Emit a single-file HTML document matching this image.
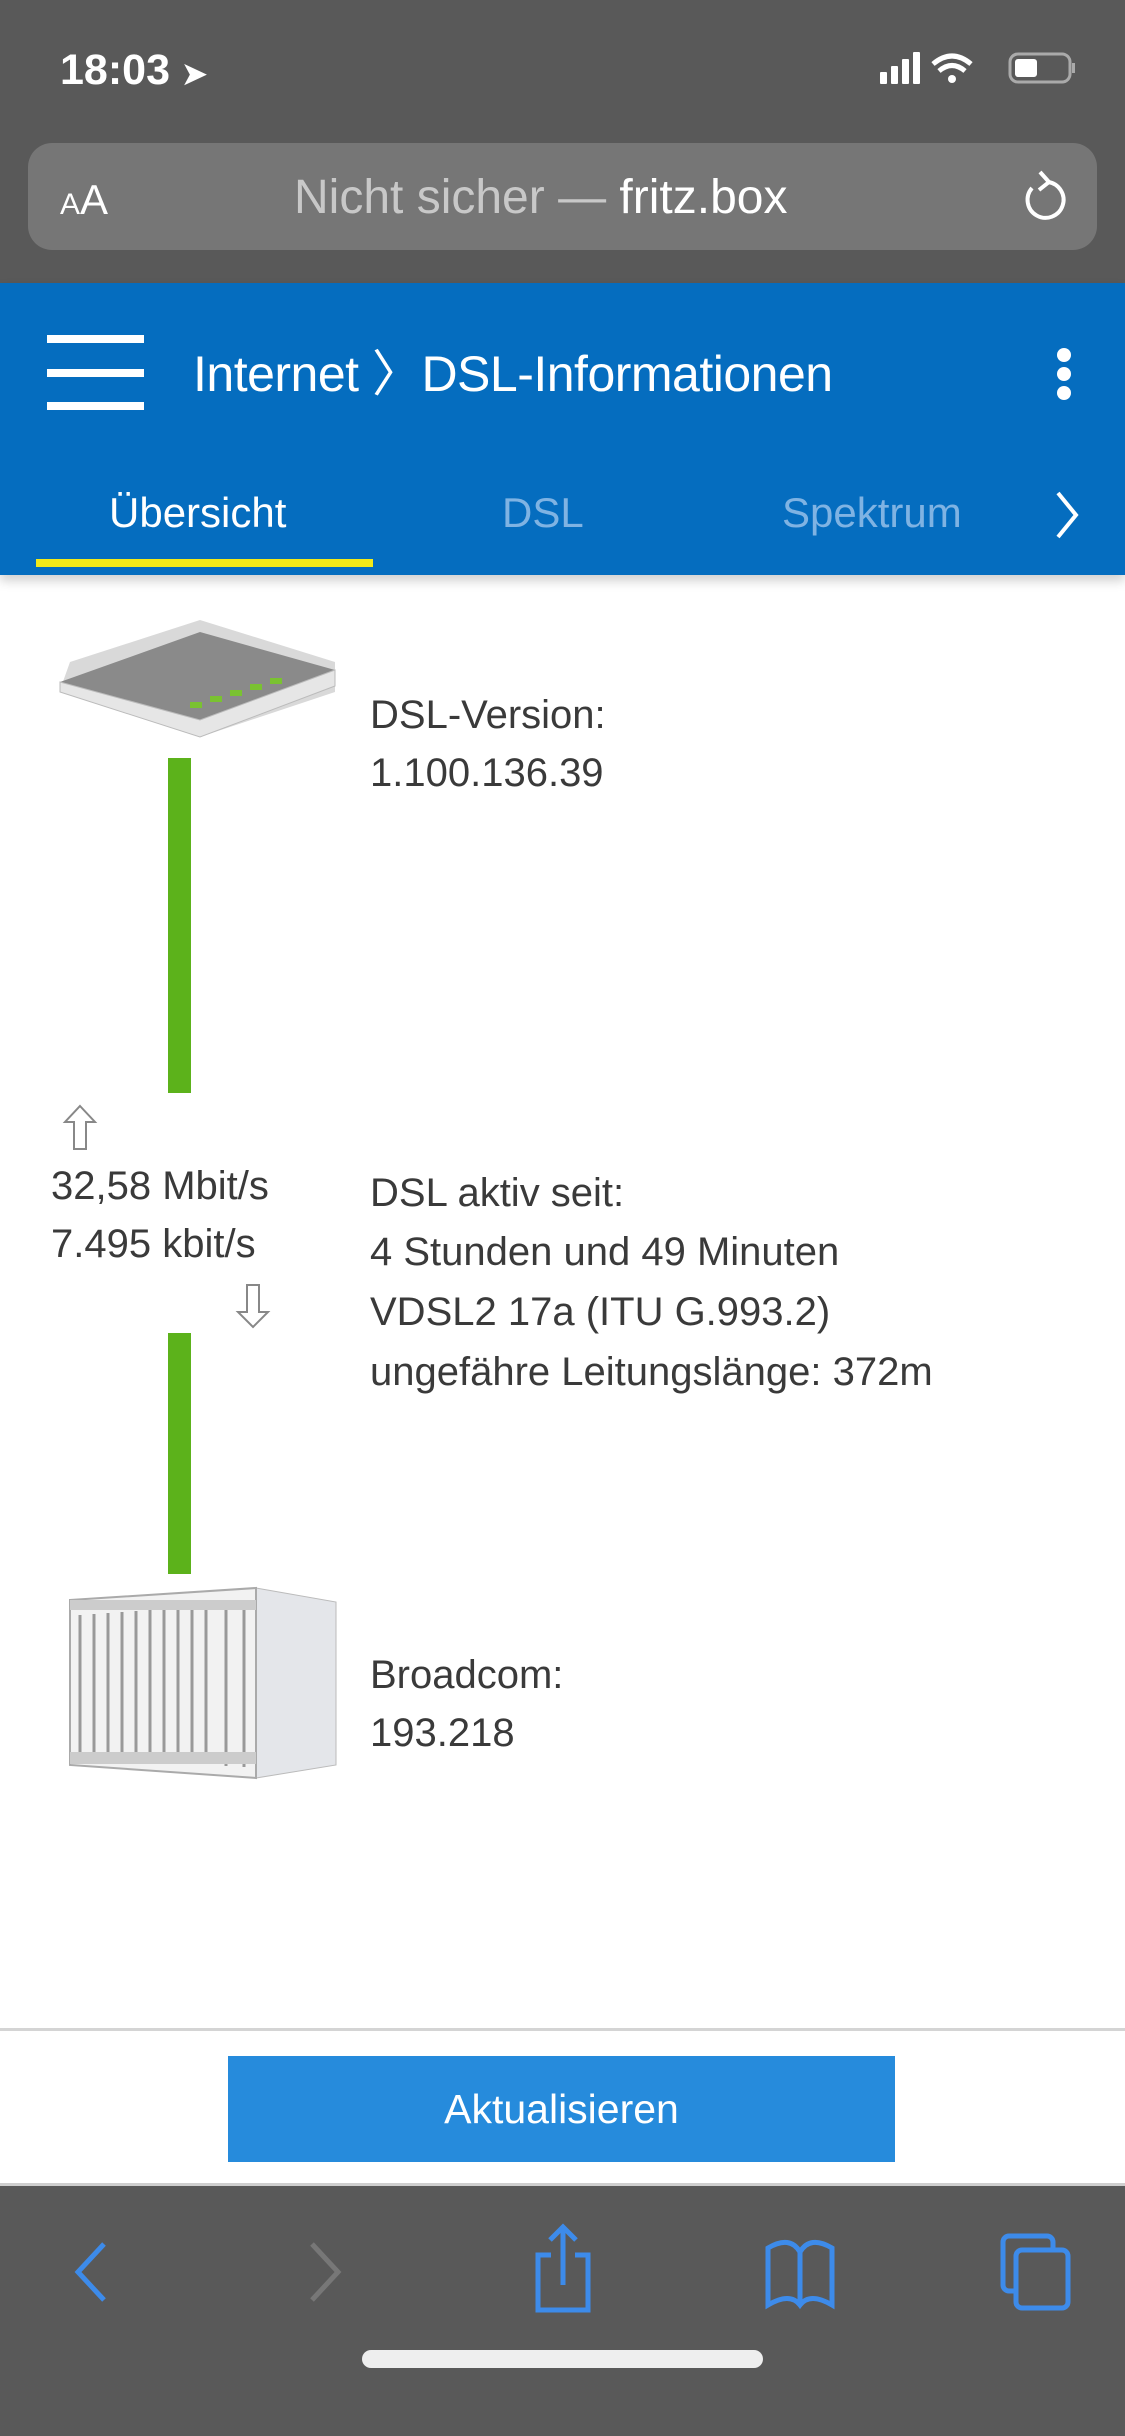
<!DOCTYPE html>
<html><head><meta charset="utf-8"><style>
*{margin:0;padding:0;box-sizing:border-box}
body{width:1125px;height:2436px;position:relative;background:#fff;font-family:"Liberation Sans",sans-serif;overflow:hidden}
.a{position:absolute;white-space:nowrap}
.t{color:#3a3a3a;font-size:40px;line-height:1}
</style></head><body>
<div class="a" style="left:0;top:0;width:1125px;height:283px;background:#595959"></div>
<div class="a" style="left:60px;top:46px;color:#fff;font-size:43px;font-weight:bold">18:03 <span style="font-size:30px">&#10148;</span></div>
<svg class="a" style="left:878px;top:50px" width="210" height="40">
<rect x="2" y="22" width="7" height="12" rx="1" fill="#fff"/><rect x="13" y="16" width="7" height="18" rx="1" fill="#fff"/><rect x="24" y="9" width="7" height="25" rx="1" fill="#fff"/><rect x="35" y="2" width="7" height="32" rx="1" fill="#fff"/>
<path d="M55 14 Q74 -2 93 14" stroke="#fff" stroke-width="5" fill="none"/><path d="M61 21 Q74 10 87 21" stroke="#fff" stroke-width="5" fill="none"/><circle cx="74" cy="29" r="4" fill="#fff"/>
<rect x="132" y="4" width="60" height="28" rx="8" fill="none" stroke="#aaa" stroke-width="3"/><rect x="137" y="9" width="22" height="18" rx="3" fill="#fff"/><rect x="194" y="13" width="3" height="10" fill="#aaa"/>
</svg>
<div class="a" style="left:28px;top:143px;width:1069px;height:107px;background:#767676;border-radius:24px"></div>
<div class="a" style="left:60px;top:176px;color:#fff;font-size:42px"><span style="font-size:30px">A</span>A</div>
<div class="a" style="left:294px;top:170px;color:#c8c8c8;font-size:48px">Nicht sicher — <span style="color:#fff">fritz.box</span></div>
<svg class="a" style="left:1018px;top:166px" width="52" height="60"><path d="M14 22 A18 18 0 1 0 30 16" stroke="#fff" stroke-width="4" fill="none"/><path d="M22 6 L31 16 L21 24" stroke="#fff" stroke-width="4" fill="none"/></svg>
<div class="a" style="left:0;top:283px;width:1125px;height:292px;background:#056dbf;box-shadow:0 6px 10px rgba(0,0,0,.18)"></div>
<div class="a" style="left:47px;top:335px;width:97px;height:8px;background:#fff"></div>
<div class="a" style="left:47px;top:369px;width:97px;height:8px;background:#fff"></div>
<div class="a" style="left:47px;top:402px;width:97px;height:8px;background:#fff"></div>
<div class="a" style="left:193px;top:334px;color:#fff;font-size:50px;letter-spacing:-0.5px">Internet 〉DSL-Informationen</div>
<div class="a" style="left:1057px;top:348px;width:14px;height:14px;border-radius:50%;background:#fff"></div>
<div class="a" style="left:1057px;top:367px;width:14px;height:14px;border-radius:50%;background:#fff"></div>
<div class="a" style="left:1057px;top:386px;width:14px;height:14px;border-radius:50%;background:#fff"></div>
<div class="a" style="left:109px;top:489px;color:#fff;font-size:42px">Übersicht</div>
<div class="a" style="left:502px;top:489px;color:#7fb3e3;font-size:42px">DSL</div>
<div class="a" style="left:782px;top:489px;color:#7fb3e3;font-size:42px">Spektrum</div>
<svg class="a" style="left:1052px;top:490px" width="30" height="50"><path d="M6 3 L24 25 L6 47" stroke="#fff" stroke-width="4" fill="none"/></svg>
<div class="a" style="left:36px;top:559px;width:337px;height:8px;background:#f2ea1a"></div>

<svg class="a" style="left:50px;top:612px" width="295" height="130">
<path d="M20 50 L150 8 L285 50 L285 80 L150 125 L10 78 Z" fill="#d9d9d9"/>
<path d="M10 70 L150 20 L285 58 L150 108 Z" fill="#8a8a8a"/>
<path d="M10 70 L150 108 L285 58 L285 74 L150 125 L10 80 Z" fill="#e6e6e6" stroke="#bbb"/>
<g fill="#7ac231"><rect x="140" y="90" width="12" height="6"/><rect x="160" y="84" width="12" height="6"/><rect x="180" y="78" width="12" height="6"/><rect x="200" y="72" width="12" height="6"/><rect x="220" y="66" width="12" height="6"/></g>
</svg>
<div class="a" style="left:168px;top:758px;width:23px;height:335px;background:#5cb21b"></div>
<svg class="a" style="left:62px;top:1104px" width="36" height="48"><path d="M18 2 L33 18 L24 18 L24 45 L12 45 L12 18 L3 18 Z" fill="none" stroke="#888" stroke-width="2"/></svg>
<div class="a t" style="left:51px;top:1166px">32,58 Mbit/s</div>
<div class="a t" style="left:51px;top:1224px">7.495 kbit/s</div>
<svg class="a" style="left:235px;top:1282px" width="36" height="48"><path d="M18 45 L33 30 L24 30 L24 3 L12 3 L12 30 L3 30 Z" fill="none" stroke="#888" stroke-width="2"/></svg>
<div class="a" style="left:168px;top:1333px;width:23px;height:241px;background:#5cb21b"></div>

<svg class="a" style="left:66px;top:1580px" width="275" height="200">
<path d="M190 8 L270 22 L270 185 L190 198 Z" fill="#e4e6ea" stroke="#bbb"/>
<path d="M4 20 L190 8 L190 198 L4 185 Z" fill="#f2f2f2" stroke="#aaa" stroke-width="2"/>
<g stroke="#999" stroke-width="3"><line x1="14" y1="35" x2="14" y2="175"/><line x1="28" y1="34" x2="28" y2="176"/><line x1="42" y1="33" x2="42" y2="177"/><line x1="56" y1="32" x2="56" y2="178"/><line x1="70" y1="31" x2="70" y2="179"/><line x1="84" y1="30" x2="84" y2="180"/><line x1="98" y1="29" x2="98" y2="181"/><line x1="112" y1="28" x2="112" y2="182"/><line x1="126" y1="27" x2="126" y2="183"/><line x1="140" y1="26" x2="140" y2="184"/><line x1="160" y1="25" x2="160" y2="186"/><line x1="178" y1="24" x2="178" y2="187"/></g>
<rect x="4" y="20" width="186" height="10" fill="#ccc"/><rect x="4" y="172" width="186" height="12" fill="#ccc"/>
</svg>

<div class="a t" style="left:370px;top:695px">DSL-Version:</div>
<div class="a t" style="left:370px;top:753px">1.100.136.39</div>
<div class="a t" style="left:370px;top:1173px">DSL aktiv seit:</div>
<div class="a t" style="left:370px;top:1232px">4 Stunden und 49 Minuten</div>
<div class="a t" style="left:370px;top:1292px">VDSL2 17a (ITU G.993.2)</div>
<div class="a t" style="left:370px;top:1352px">ungefähre Leitungslänge: 372m</div>
<div class="a t" style="left:370px;top:1655px">Broadcom:</div>
<div class="a t" style="left:370px;top:1713px">193.218</div>

<div class="a" style="left:0;top:2028px;width:1125px;height:3px;background:#d4d4d4"></div>
<div class="a" style="left:228px;top:2056px;width:667px;height:106px;background:#268bdc;color:#fff;font-size:41px;text-align:center;line-height:106px">Aktualisieren</div>
<div class="a" style="left:0;top:2183px;width:1125px;height:253px;background:#595959;border-top:3px solid #cfcfcf"></div>
<svg class="a" style="left:0;top:2180px" width="1125" height="256">
<path d="M104 64 L78 92 L104 120" stroke="#3d8bea" stroke-width="5" fill="none"/>
<path d="M312 64 L338 92 L312 120" stroke="#777" stroke-width="5" fill="none"/>
<path d="M551 75 L538 75 L538 130 L588 130 L588 75 L575 75" stroke="#3d8bea" stroke-width="5" fill="none"/><path d="M563 105 L563 48 M550 60 L563 47 L576 60" stroke="#3d8bea" stroke-width="5" fill="none"/>
<path d="M768 125 L768 68 Q790 55 800 72 Q810 55 832 68 L832 125 Q810 112 800 125 Q790 112 768 125 Z M800 72 L800 125" stroke="#3d8bea" stroke-width="5" fill="none"/>
<rect x="1003" y="56" width="50" height="55" rx="6" stroke="#3d8bea" stroke-width="5" fill="none"/><rect x="1016" y="70" width="52" height="58" rx="6" stroke="#3d8bea" stroke-width="5" fill="#595959"/>
</svg>
<div class="a" style="left:362px;top:2350px;width:401px;height:18px;border-radius:9px;background:#eee"></div>
</body></html>
